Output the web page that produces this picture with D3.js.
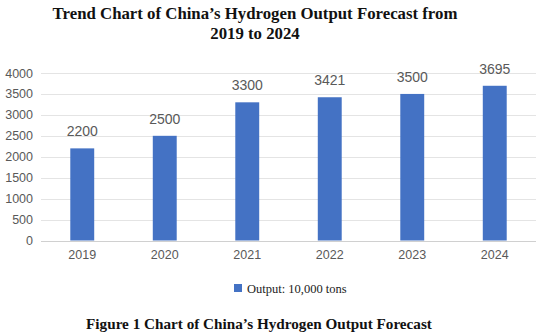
<!DOCTYPE html>
<html><head><meta charset="utf-8">
<script src="https://cdn.jsdelivr.net/npm/d3@7"></script>
<style>body{margin:0;background:#fff}svg{display:block}</style>
</head><body>
<svg id="c" width="553" height="336"></svg>
<script>
const years = ["2019","2020","2021","2022","2023","2024"];
const output = [2200,2500,3300,3421,3500,3695];
const yTicks = [0,500,1000,1500,2000,2500,3000,3500,4000];
const titleLines = ["Trend Chart of China\u2019s Hydrogen Output Forecast from","2019 to 2024"];
const legendLabel = "Output: 10,000 tons";
const caption = "Figure 1 Chart of China\u2019s Hydrogen Output Forecast";

const svg = d3.select("#c");
const L = 41, R = 536, T = 73, B = 240.5;
const x = d3.scaleBand().domain(years).range([L, R]).paddingInner(0.71).paddingOuter(0.355);
const y = d3.scaleLinear().domain([0,4000]).range([B, T]);

svg.append("g").selectAll("text").data(titleLines).join("text")
  .attr("x", 255).attr("y", (d,i)=>19+i*20).attr("text-anchor","middle")
  .attr("font-family","'Liberation Serif', 'Times New Roman', serif").attr("font-weight","bold")
  .attr("font-size",16.8).attr("fill","#111").text(d=>d);

// gridlines
svg.append("g").selectAll("line").data(yTicks).join("line")
  .attr("x1", L).attr("x2", R).attr("y1", d=>Math.round(y(d))+0.5).attr("y2", d=>Math.round(y(d))+0.5)
  .attr("stroke", d=>d===0?"#d0d0d0":"#e4e4e4").attr("stroke-width",1);

// y axis labels
const yAxis = d3.axisLeft(y).tickValues(yTicks).tickFormat(d3.format("d")).tickSize(0).tickPadding(0);
const gy = svg.append("g").attr("transform",`translate(33,0)`).call(yAxis);
gy.select(".domain").remove();
gy.selectAll("text").attr("font-family","'Liberation Sans', Arial, sans-serif").attr("font-size",12.5).attr("fill","#595959");

// x axis labels
const xAxis = d3.axisBottom(x).tickSize(0).tickPadding(0);
const gx = svg.append("g").attr("transform",`translate(0,${B+10})`).call(xAxis);
gx.select(".domain").remove();
gx.selectAll("text").attr("font-family","'Liberation Sans', Arial, sans-serif").attr("font-size",12.5).attr("fill","#595959");

// bars
svg.append("g").selectAll("rect").data(output).join("rect")
  .attr("x",(d,i)=>x(years[i])).attr("width",x.bandwidth())
  .attr("y",d=>y(d)).attr("height",d=>B-y(d)).attr("fill","#4472C4");

// data labels
svg.append("g").selectAll("text").data(output).join("text")
  .attr("x",(d,i)=>x(years[i])+x.bandwidth()/2).attr("y",d=>y(d)-12)
  .attr("text-anchor","middle").attr("font-family","'Liberation Sans', Arial, sans-serif")
  .attr("font-size",14).attr("fill","#595959").text(d=>d);

// legend
svg.append("rect").attr("x",234).attr("y",284).attr("width",8).attr("height",8).attr("fill","#4472C4");
svg.append("text").attr("x",247).attr("y",293).attr("font-family","'Liberation Serif', 'Times New Roman', serif")
  .attr("font-size",12.5).attr("fill","#222").text(legendLabel);

// caption
svg.append("text").attr("x",259).attr("y",329).attr("text-anchor","middle")
  .attr("font-family","'Liberation Serif', 'Times New Roman', serif").attr("font-weight","bold")
  .attr("font-size",15.2).attr("fill","#111").text(caption);
</script>
</body></html>
